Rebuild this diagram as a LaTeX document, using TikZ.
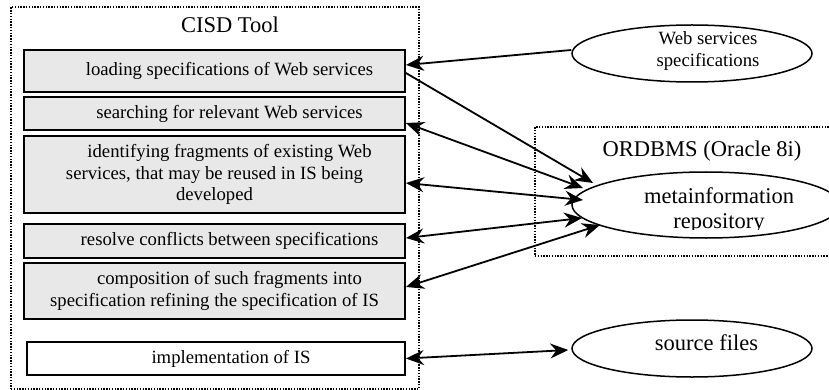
\documentclass[tikz,border=0pt]{standalone}
\usepackage{fontspec}
\setmainfont{Liberation Serif}
\usetikzlibrary{arrows.meta,shapes.geometric,calc}
\definecolor{boxgray}{RGB}{232,232,232}
\newcommand{\smallfnt}{\fontsize{18.7}{21.5}\selectfont}
\newcommand{\largefnt}{\fontsize{22.5}{25}\selectfont}
\tikzset{
  procbox/.style={draw=black, line width=1.8pt, fill=boxgray, minimum width=381pt, inner sep=0pt, align=center, font=\smallfnt},
  container/.style={draw=black, line width=1.4pt, dash pattern=on 1.4pt off 1.4pt, inner sep=0pt},
  store/.style={draw=black, ellipse, line width=1.5pt, inner sep=0pt},
  conn/.style={line width=1.8pt, draw=black},
  tip/.tip={Stealth[length=18pt, width=15pt, inset=6pt]},
}
\begin{document}
\begin{tikzpicture}[x=1pt,y=-1pt]
\useasboundingbox (0,0) rectangle (829,390);
\begin{scope}
\clip (0,0) rectangle (829,390);
% containers
\node[container, minimum width=408pt, minimum height=382pt] (cisd) at (215,198) {};
\node[anchor=base, font=\largefnt] (cisdt) at (230,33) {CISD Tool};
\node[container, minimum width=305pt, minimum height=129pt] (ordb) at (687.5,191.5) {};
\node[anchor=base, font=\largefnt] (ordbt) at (702,157) {ORDBMS (Oracle 8i)};
% process boxes
\node[procbox, minimum height=42pt] (b1) at (214.5,71) {\hspace*{30pt}loading specifications of Web services};
\node[procbox, minimum height=33pt] (b2) at (214.5,113.5) {\hspace*{30pt}searching for relevant Web services};
\node[procbox, minimum height=77pt] (b3) at (214.5,174.5) {\hspace*{30pt}identifying fragments of existing Web\\services, that may be reused in IS being\\developed};
\node[procbox, minimum height=34pt] (b4) at (214.5,241) {\hspace*{30pt}resolve conflicts between specifications};
\node[procbox, minimum height=56pt] (b5) at (214.5,291) {\hspace*{30pt}composition of such fragments into\\specification refining the specification of IS};
\node[procbox, fill=white, minimum width=378pt, minimum height=33pt] (b6) at (216,358.5) {\hspace*{30pt}implementation of IS};
% stores
\node[store, minimum width=240pt, minimum height=57pt] (ws) at (692,53.5) {};
\node[align=center, font=\smallfnt, inner sep=0pt] (wst) at (708,51) {Web services\\specifications};
\node[store, minimum width=268pt, minimum height=66pt] (meta) at (706,205) {};
\begin{scope}
\clip (560,160) rectangle (829,229);
\node[align=center, font=\largefnt, inner sep=0pt] (metat) at (719,211) {metainformation\\repository};
\end{scope}
\node[store, minimum width=240pt, minimum height=57pt] (sf) at (692,348.5) {};
\node[anchor=base, font=\largefnt, inner sep=0pt] (sft) at (706.5,350) {source files};
% connectors
\draw[conn, -tip] ([yshift=3.5pt]ws.west) -- ([yshift=6pt]b1.east);
\draw[conn, -tip] ([yshift=-2pt]b1.east) -- ([shift={(-113pt,22pt)}]meta.center);
\draw[conn, tip-tip] ([yshift=-9.5pt]b2.east) -- ([shift={(-123pt,17pt)}]meta.center);
\draw[conn, tip-tip] ([yshift=-8.5pt]b3.east) -- ([shift={(-123pt,5pt)}]meta.center);
\draw[conn, tip-tip] ([yshift=3pt]b4.east) -- ([shift={(-124pt,-13pt)}]meta.center);
\draw[conn, tip-tip] ([yshift=4pt]b5.east) -- ([shift={(-106pt,-20pt)}]meta.center);
\draw[conn, tip-tip] (b6.east) -- ([shift={(-3pt,-1.5pt)}]sf.west);
\end{scope}
\end{tikzpicture}
\end{document}
